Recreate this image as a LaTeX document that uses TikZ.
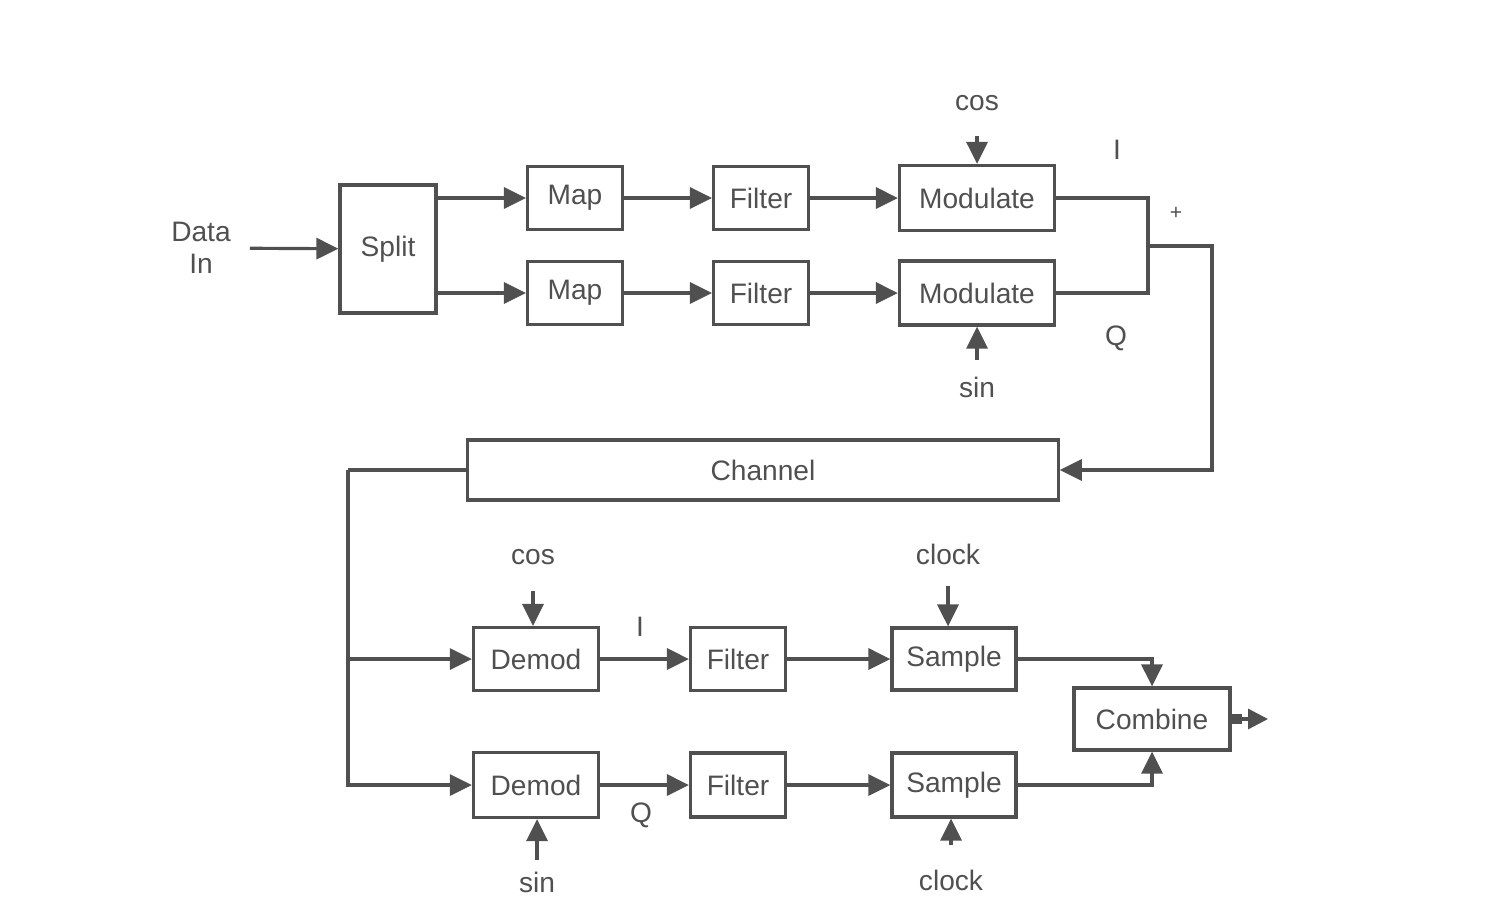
\documentclass[tikz,border=0pt]{standalone}
\usepackage{fontspec}
\setmainfont{Liberation Sans}
\usetikzlibrary{arrows.meta}
\definecolor{ink}{HTML}{505050}
\tikzset{
  blk/.style={draw=ink, line width=0.9pt, rectangle, inner sep=0pt, minimum width=9.5mm, minimum height=6.3mm, font=\fontsize{8}{9}\selectfont, text=ink},
  lbl/.style={inner sep=1pt, font=\fontsize{8}{9}\selectfont, text=ink},
  wire/.style={draw=ink, line width=0.9pt},
  arr/.style={wire, -{Triangle[length=2.2mm,width=2.1mm]}}
}

\begin{document}
\begin{tikzpicture}[x=0.01cm, y=-0.01cm]
  \useasboundingbox (0,0) rectangle (1509,921);

  % Transmitter
  \node[lbl, align=center] (data) at (201,248) {Data\\In};
  \node[blk, minimum width=9.6mm, minimum height=12.8mm] (split) at (388,249) {Split};
  \node[blk] (map1) at (575,198) {Map};
  \node[blk] (map2) at (575,293) {Map};
  \node[blk] (filt1) at (761,198) {Filter};
  \node[blk] (filt2) at (761,293) {Filter};
  \node[blk, minimum width=15.5mm, minimum height=6.5mm] (mod1) at (977,198) {Modulate};
  \node[blk, minimum width=15.5mm, minimum height=6.4mm] (mod2) at (977,293) {Modulate};
  \node[lbl] (cos1) at (977,103) {cos};
  \node[lbl] (sin1) at (977,387) {sin};
  \node[lbl] (i1) at (1117,150) {I};
  \node[lbl, font=\fontsize{6}{7}\selectfont] (plus) at (1176,213) {+};
  \node[lbl] (q1) at (1116,338) {Q};
  \coordinate (sum) at (1148,246);
  \coordinate (ret) at (1212,246);

  % Channel
  \node[blk, minimum width=59mm, minimum height=6mm] (chan) at (763,470) {Channel};
  \coordinate (tap) at (348,470);

  % Receiver
  \node[blk, minimum width=12.5mm] (dem1) at (536,659) {Demod};
  \node[blk, minimum width=12.5mm, minimum height=6.5mm] (dem2) at (536,785) {Demod};
  \node[blk] (filt3) at (738,659) {Filter};
  \node[blk, minimum height=6.4mm] (filt4) at (738,785) {Filter};
  \node[blk, minimum width=12.4mm, minimum height=6.2mm] (samp1) at (954,659) {Sample};
  \node[blk, minimum width=12.4mm, minimum height=6.4mm] (samp2) at (954,785) {Sample};
  \node[blk, minimum width=15.6mm, minimum height=6.2mm] (comb) at (1152,719) {Combine};
  \node[lbl] (cos2) at (533,557) {cos};
  \node[lbl] (clk1) at (948,554) {clock};
  \node[lbl] (sin2) at (537,882) {sin};
  \node[lbl] (clk2) at (951,880) {clock};
  \node[lbl] (i2) at (640,627) {I};
  \node[lbl] (q2) at (641,815) {Q};
  \coordinate (out) at (1268,719);

  % Transmitter connections
  \draw[arr, shorten <=1.5mm] (data) -- (split);
  \draw[arr] (split.east |- map1) -- (map1);
  \draw[arr] (split.east |- map2) -- (map2);
  \draw[arr] (map1) -- (filt1);
  \draw[arr] (map2) -- (filt2);
  \draw[arr] (filt1) -- (mod1);
  \draw[arr] (filt2) -- (mod2);
  \draw[arr, shorten <=2.1mm] (cos1) -- (mod1);
  \draw[arr, shorten <=1.2mm] (sin1) -- (mod2);
  \draw[wire] (mod1) -| (sum);
  \draw[wire] (mod2) -| (sum);
  \draw[arr] (sum) -- (ret) |- (chan);

  % Receiver connections
  \draw[wire] (chan) -- (tap);
  \draw[arr] (tap) |- (dem1);
  \draw[arr] (tap) |- (dem2);
  \draw[arr] (dem1) -- (filt3);
  \draw[arr] (dem2) -- (filt4);
  \draw[arr] (filt3) -- (samp1);
  \draw[arr] (filt4) -- (samp2);
  \draw[arr, shorten <=2.2mm] (cos2) -- (cos2 |- dem1.north);
  \draw[arr, shorten <=0.7mm] (sin2) -- (sin2 |- dem2.south);
  \draw[arr, shorten <=1.7mm] (clk1) -- (clk1 |- samp1.north);
  \draw[arr, shorten <=2mm] (clk2) -- (clk2 |- samp2.south);
  \draw[arr] (samp1) -| (comb);
  \draw[arr] (samp2) -| (comb);
  \draw[wire, {Square[length=1mm,width=1mm]}-{Triangle[length=2mm,width=2mm]}] (comb) -- (out);
\end{tikzpicture}
\end{document}
